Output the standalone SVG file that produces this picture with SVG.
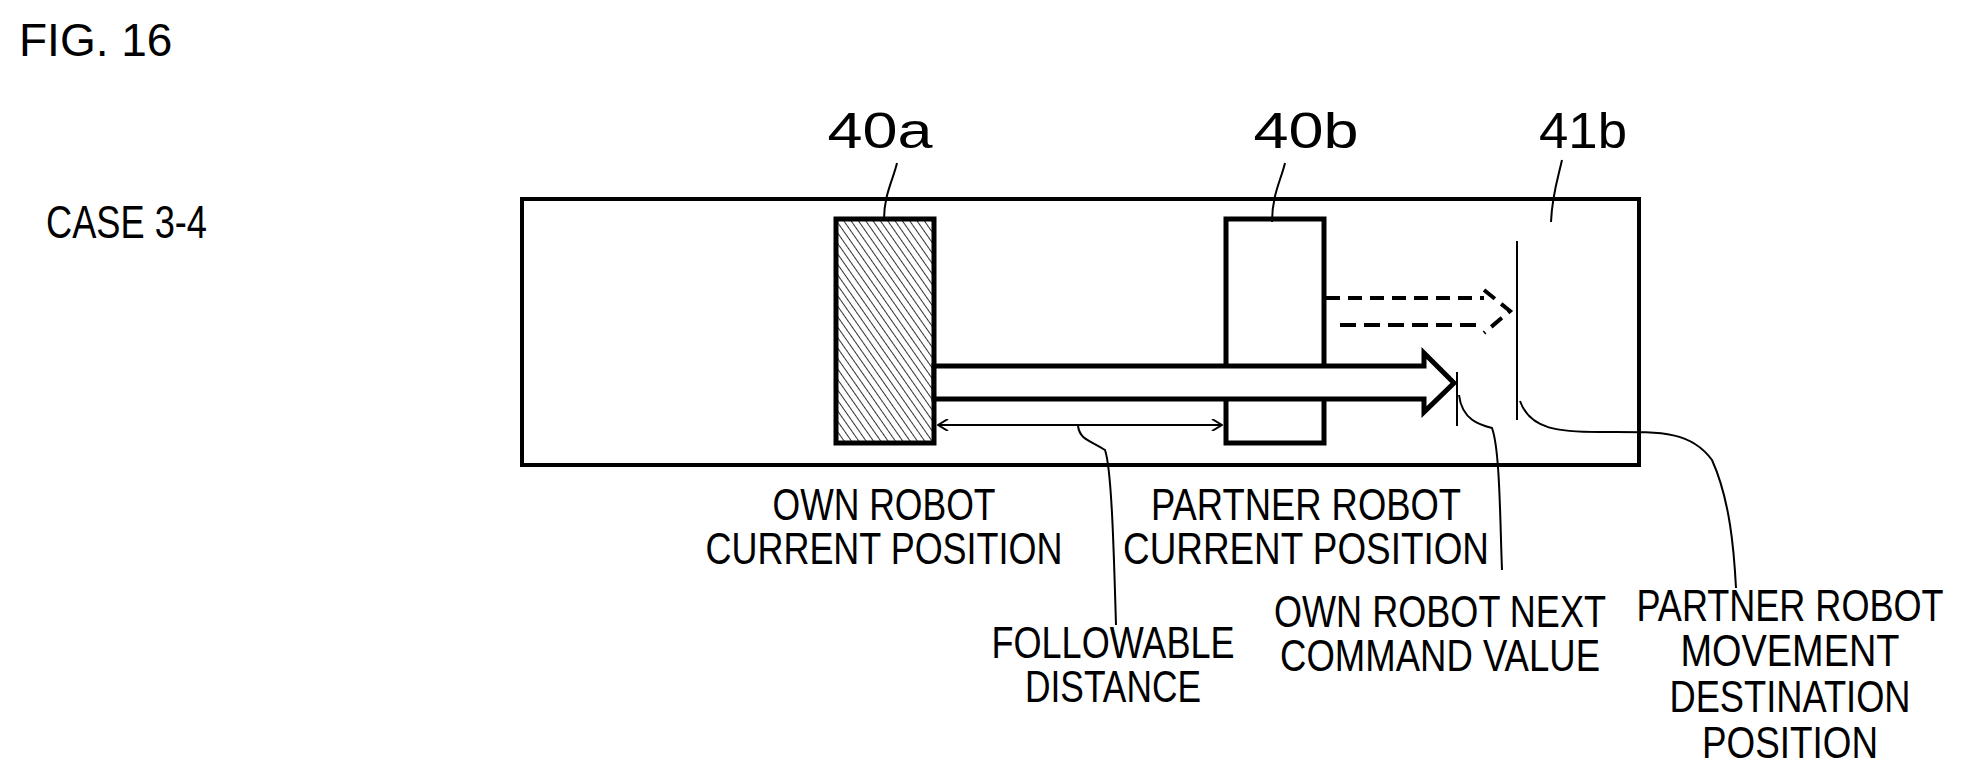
<svg xmlns="http://www.w3.org/2000/svg" width="1966" height="784" viewBox="0 0 1966 784">
<style>
text{font-family:"Liberation Sans",Arial,sans-serif;fill:#000}
.lb{font-size:44px;text-anchor:middle}
.nm{font-size:50px;text-anchor:middle}
.th{fill:none;stroke:#000;stroke-width:4}
.ln{fill:none;stroke:#000;stroke-width:2}
</style>
<defs>
<pattern id="h" width="6" height="6" patternUnits="userSpaceOnUse" patternTransform="rotate(-35)">
<rect width="6" height="6" fill="#fff"/><line x1="0" y1="0" x2="0" y2="6" stroke="#000" stroke-width="1.6"/>
</pattern>
<marker id="a" viewBox="0 0 12 12" refX="11" refY="6" markerWidth="12" markerHeight="12" orient="auto-start-reverse" markerUnits="userSpaceOnUse">
<path d="M1,0 L11,6 L1,12" fill="none" stroke="#000" stroke-width="2"/>
</marker>
</defs>
<rect width="1966" height="784" fill="#fff"/>
<text x="19" y="56" font-size="46">FIG. 16</text>
<text x="46" y="238" font-size="46" textLength="161" lengthAdjust="spacingAndGlyphs">CASE 3-4</text>
<rect id="frame" x="522" y="199" width="1117" height="266" class="th" stroke-width="5"/>
<g id="n40a"><rect x="836" y="219" width="98" height="224" fill="url(#h)" stroke="#000" stroke-width="5"/>
<text class="nm" x="880" y="148" textLength="105" lengthAdjust="spacingAndGlyphs">40a</text></g>
<g id="n40b"><rect x="1226" y="219" width="98" height="224" fill="#fff" stroke="#000" stroke-width="5"/>
<text class="nm" x="1306" y="148" textLength="105" lengthAdjust="spacingAndGlyphs">40b</text></g>
<g id="n41b"><line x1="1517" y1="241" x2="1517" y2="420" class="ln" stroke-width="3"/>
<text class="nm" x="1583" y="148" textLength="88" lengthAdjust="spacingAndGlyphs">41b</text></g>
<g id="next"><line x1="1457" y1="372" x2="1457" y2="426" class="ln" stroke-width="3"/></g>
<g id="connectors">
<path d="M934,366 H1424 V353 L1454,383 L1424,412 V399 H934 Z" fill="#fff" stroke="#000" stroke-width="5"/>
<line x1="938" y1="425" x2="1222" y2="425" class="ln" stroke-width="3" marker-start="url(#a)" marker-end="url(#a)"/>
<path d="M1326,298 H1484 M1484,290 L1510,311 L1484,333" class="th" stroke-width="3" stroke-dasharray="14,8"/>
<path d="M1340,325 H1484" class="th" stroke-width="5" stroke-dasharray="16,8"/>
<path d="M897,163 C893,180 884,195 884,219" class="ln"/>
<path d="M1285,163 C1281,180 1272,195 1272,222" class="ln"/>
<path d="M1562,160 C1558,178 1552,195 1551,222" class="ln"/>
<path d="M1078,426 C1080,440 1090,440 1105,450 C1112,470 1114,560 1116,625" class="ln"/>
<path d="M1459,395 C1462,420 1480,425 1492,428 C1500,450 1500,520 1502,570" class="ln"/>
<path d="M1520,401 C1530,430 1560,432 1600,432 C1660,432 1690,430 1712,460 C1730,500 1734,550 1736,588" class="ln"/>
</g>
<g id="labels">
<text class="lb" x="884" y="520" textLength="223" lengthAdjust="spacingAndGlyphs">OWN ROBOT</text>
<text class="lb" x="884" y="564" textLength="357" lengthAdjust="spacingAndGlyphs">CURRENT POSITION</text>
<text class="lb" x="1306" y="520" textLength="310" lengthAdjust="spacingAndGlyphs">PARTNER ROBOT</text>
<text class="lb" x="1306" y="564" textLength="366" lengthAdjust="spacingAndGlyphs">CURRENT POSITION</text>
<text class="lb" x="1113" y="658" textLength="243" lengthAdjust="spacingAndGlyphs">FOLLOWABLE</text>
<text class="lb" x="1113" y="702" textLength="176" lengthAdjust="spacingAndGlyphs">DISTANCE</text>
<text class="lb" x="1440" y="627" textLength="332" lengthAdjust="spacingAndGlyphs">OWN ROBOT NEXT</text>
<text class="lb" x="1440" y="671" textLength="320" lengthAdjust="spacingAndGlyphs">COMMAND VALUE</text>
<text class="lb" x="1790" y="621" textLength="307" lengthAdjust="spacingAndGlyphs">PARTNER ROBOT</text>
<text class="lb" x="1790" y="666" textLength="219" lengthAdjust="spacingAndGlyphs">MOVEMENT</text>
<text class="lb" x="1790" y="712" textLength="241" lengthAdjust="spacingAndGlyphs">DESTINATION</text>
<text class="lb" x="1790" y="758" textLength="176" lengthAdjust="spacingAndGlyphs">POSITION</text>
</g>
</svg>
